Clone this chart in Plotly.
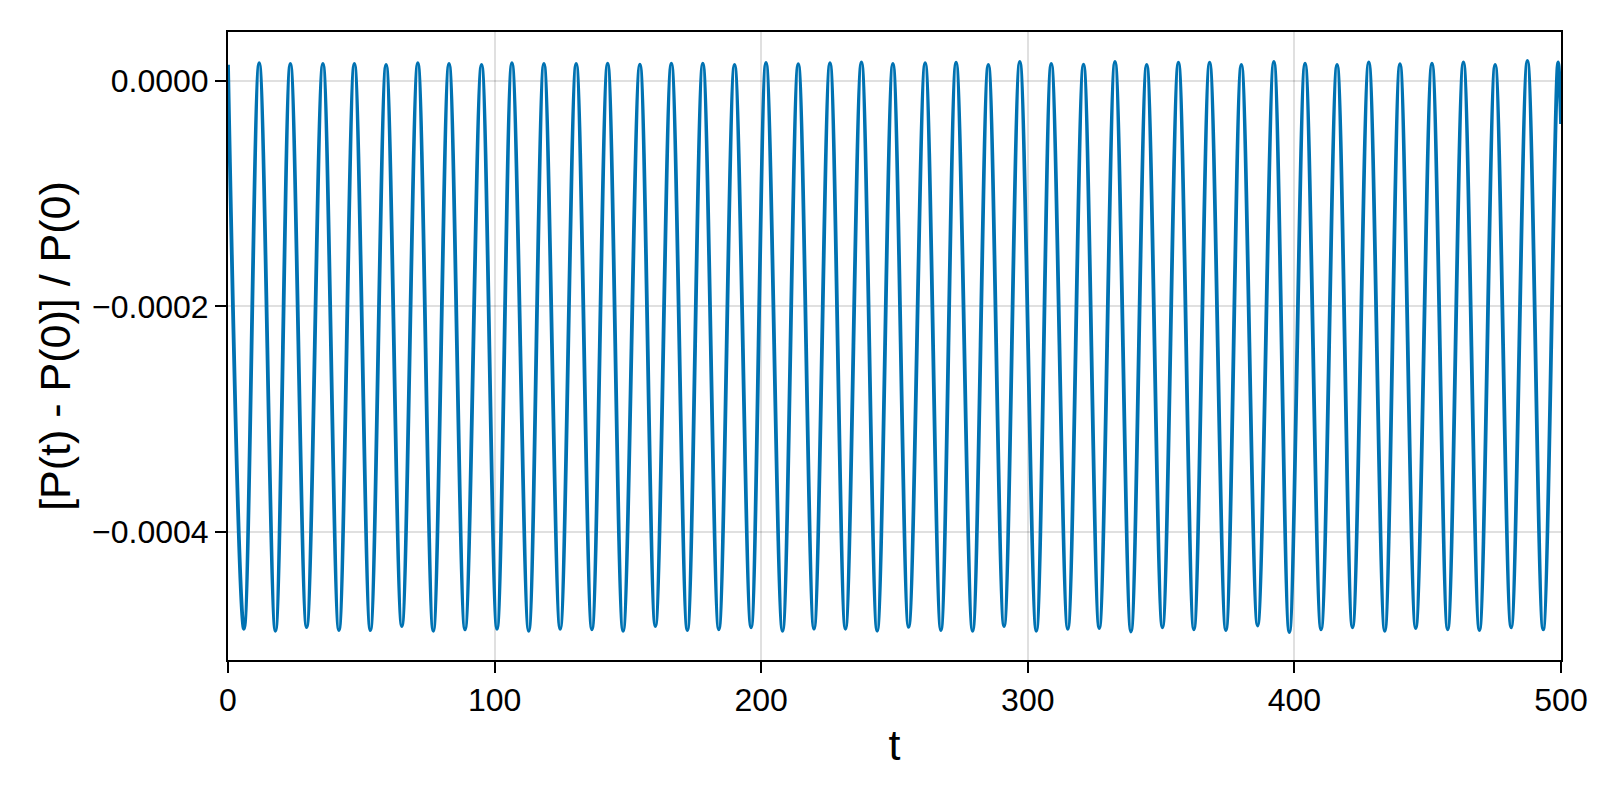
import plotly.graph_objects as gobj

# values: peak and trough positions of the oscillation
start_t = 0.0
start_v = 1.45e-5
end_t = 500.0
end_v = -3.8e-5

peak_t = [11.7, 23.4, 35.6, 47.4, 59.3, 71.2, 82.9, 95.1, 106.5,
          118.5, 130.6, 142.4, 154.5, 166.3, 178.1, 190.0, 201.8, 213.9, 225.8, 237.6, 249.4,
          261.5, 273.1, 285.2, 297.0, 308.8, 320.9, 332.7, 344.6, 356.5, 368.2, 380.1, 392.3,
          404.0, 416.0, 427.9, 439.6, 451.6, 463.4, 475.3, 487.4, 498.9]
peak_v = [1.59e-5, 1.53e-5, 1.53e-5, 1.53e-5, 1.44e-5, 1.59e-5, 1.53e-5, 1.44e-5, 1.59e-5,
          1.53e-5, 1.53e-5, 1.56e-5, 1.47e-5, 1.56e-5, 1.56e-5, 1.44e-5, 1.62e-5, 1.50e-5, 1.59e-5, 1.67e-5, 1.53e-5,
          1.59e-5, 1.64e-5, 1.44e-5, 1.70e-5, 1.53e-5, 1.47e-5, 1.70e-5, 1.44e-5, 1.64e-5, 1.64e-5, 1.44e-5, 1.70e-5,
          1.56e-5, 1.44e-5, 1.67e-5, 1.50e-5, 1.56e-5, 1.67e-5, 1.44e-5, 1.79e-5, 1.67e-5]

trough_t = [6.0, 17.8, 29.5, 41.6, 53.4, 65.2, 77.0, 88.9, 100.9, 112.8, 124.6, 136.5, 148.2, 160.3,
            172.3, 184.1, 196.2, 208.0, 219.8, 231.6, 243.5, 255.3, 267.4, 279.3, 291.1, 303.2, 315.0, 326.8,
            338.7, 350.5, 362.3, 374.3, 386.2, 398.1, 410.0, 421.8, 433.9, 445.5, 457.5, 469.4, 481.3, 493.3]
trough_v = [-4.861e-4, -4.879e-4, -4.847e-4, -4.873e-4, -4.873e-4, -4.838e-4, -4.879e-4,
            -4.867e-4, -4.861e-4, -4.879e-4, -4.861e-4, -4.867e-4, -4.879e-4, -4.838e-4,
            -4.873e-4, -4.867e-4, -4.849e-4, -4.879e-4, -4.861e-4, -4.861e-4, -4.879e-4,
            -4.844e-4, -4.873e-4, -4.879e-4, -4.838e-4, -4.879e-4, -4.861e-4, -4.855e-4,
            -4.885e-4, -4.849e-4, -4.867e-4, -4.873e-4, -4.832e-4, -4.891e-4, -4.867e-4,
            -4.849e-4, -4.879e-4, -4.855e-4, -4.867e-4, -4.873e-4, -4.849e-4, -4.867e-4]

x_ticks = [0, 100, 200, 300, 400, 500]
y_ticks = [0.0, -0.0002, -0.0004]


def build_series():
    """
    Merges start, peaks, troughs and end into one time ordered series.
    """
    pts = [(start_t, start_v)] + list(zip(peak_t, peak_v)) + list(zip(trough_t, trough_v)) + [(end_t, end_v)]
    pts.sort(key=lambda p: p[0])
    return [p[0] for p in pts], [p[1] for p in pts]


def main():
    t, v = build_series()

    fig = gobj.Figure()
    fig.add_scatter(x=t, y=v, mode='lines', line=dict(color='#0072b2', width=3.8, shape='spline', smoothing=1),
                    showlegend=False)

    font_name = 'Liberation Sans, Arial, sans-serif'
    axis_font = dict(family=font_name, size=32, color='black')
    fig.update_xaxes(range=[0, 500], tickvals=x_ticks, ticks='outside', ticklen=11, tickwidth=2, tickcolor='black',
                     showline=True, linewidth=2, linecolor='black', mirror=True,
                     showgrid=True, gridcolor='rgba(0,0,0,0.12)', gridwidth=2, zeroline=False,
                     tickfont=axis_font,
                     title=dict(text='t', font=dict(family=font_name, size=43, color='black'), standoff=12))
    fig.update_yaxes(range=[-0.0005138, 0.0000436], tickvals=y_ticks, tickformat='.4f',
                     ticks='outside', ticklen=11, tickwidth=2, tickcolor='black',
                     showline=True, linewidth=2, linecolor='black', mirror=True,
                     showgrid=True, gridcolor='rgba(0,0,0,0.12)', gridwidth=2, zeroline=False,
                     tickfont=axis_font,
                     title=dict(text='[P(t) - P(0)] / P(0)', font=dict(family=font_name, size=43, color='black'),
                                standoff=8))

    fig.update_layout(autosize=False,
                      width=1600,
                      height=800,
                      margin=dict(l=228, r=33, t=32, b=140),
                      plot_bgcolor='white',
                      paper_bgcolor='white')

    # page body has a default margin, drop it so the figure sits at the window corner
    fig.write_html("out.html", config={'displayModeBar': False},
                   post_script="document.body.style.margin='0px';")


if __name__ == "__main__":
    main()
